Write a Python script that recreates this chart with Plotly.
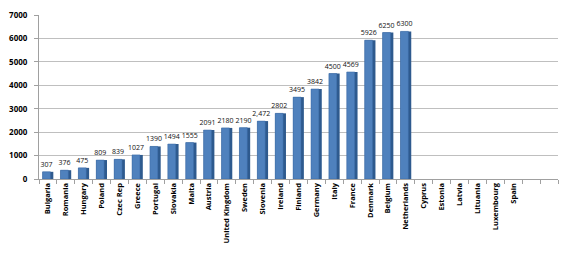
import plotly.graph_objects as go

countries = ["Bulgaria", "Romania", "Hungary", "Poland", "Czec Rep", "Greece", "Portugal",
             "Slovakia", "Malta", "Austria", "United Kingdom", "Sweden", "Slovenia", "Ireland",
             "Finland", "Germany", "Italy", "France", "Denmark", "Belgium", "Netherlands",
             "Cyprus", "Estonia", "Latvia", "Lituania", "Luxembourg", "Spain", " ", "  "]
values = [307, 376, 475, 809, 839, 1027, 1390, 1494, 1555, 2091, 2180, 2190, 2472, 2802,
          3495, 3842, 4500, 4569, 5926, 6250, 6300,
          None, None, None, None, None, None, None, None]
labels = ["307", "376", "475", "809", "839", "1027", "1390", "1494", "1555", "2091", "2180",
          "2190", "2,472", "2802", "3495", "3842", "4500", "4569", "5926", "6250", "6300",
          "", "", "", "", "", "", "", ""]
y_ticks = [0, 1000, 2000, 3000, 4000, 5000, 6000, 7000]

fig = go.Figure()
# darker side face (pseudo-3D depth)
fig.add_trace(go.Bar(
    x=countries, y=values, width=0.6, offset=-0.3,
    marker=dict(color="#2E5A8E", line=dict(width=0)),
    hoverinfo="skip", showlegend=False,
))
# front face with value labels
fig.add_trace(go.Bar(
    x=countries, y=values, width=0.44, offset=-0.3,
    marker=dict(color="#4F81BD", line=dict(color="#3A6AA6", width=0.5)),
    text=labels, textposition="outside", cliponaxis=False, constraintext="none",
    textfont=dict(family="Open Sans, Arial", size=7, color="#111111"),
    showlegend=False,
))

fig.update_layout(
    width=572, height=256,
    margin=dict(l=39, r=14, t=15, b=77),
    paper_bgcolor="white", plot_bgcolor="white",
    barmode="overlay",
    font=dict(family="Open Sans, Arial", color="black"),
)
fig.update_xaxes(
    type="category", range=[-0.5, len(countries) - 0.5], automargin=False,
    tickangle=-90, tickfont=dict(size=7.5, family="Open Sans", weight="bold"),
    ticks="outside", tickson="boundaries", ticklen=4, tickcolor="#A0A0A0",
    showline=True, linecolor="#A0A0A0", linewidth=1,
    showgrid=False,
)
fig.update_yaxes(
    range=[0, 7000], tickvals=y_ticks, ticktext=[str(v) for v in y_ticks],
    tickfont=dict(size=8, family="Open Sans", weight="bold"), automargin=False,
    showgrid=True, gridcolor="#BFBFBF", gridwidth=1,
    showline=True, linecolor="#A0A0A0", linewidth=1,
    ticks="outside", ticklen=4, tickcolor="#A0A0A0", ticklabelstandoff=5,
    zeroline=False,
)

fig.write_html("out.html")
